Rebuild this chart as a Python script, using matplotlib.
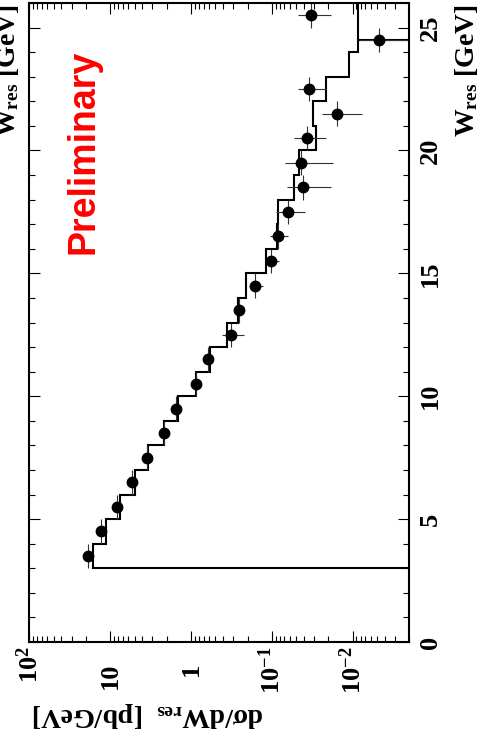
import numpy as np
import matplotlib
matplotlib.use('Agg')
import matplotlib.pyplot as plt
from matplotlib.ticker import MultipleLocator, LogLocator, FuncFormatter, NullFormatter

plt.rcParams['mathtext.fontset'] = 'custom'
plt.rcParams['mathtext.rm'] = 'Liberation Serif:bold'
plt.rcParams['mathtext.it'] = 'Liberation Serif:bold'
plt.rcParams['mathtext.bf'] = 'Liberation Serif:bold'
plt.rcParams['font.family'] = 'Liberation Serif'
plt.rcParams['font.weight'] = 'bold'

# measured cross section, one point per 1 GeV bin
w_res = [3.5, 4.5, 5.5, 6.5, 7.5, 8.5, 9.5, 10.5, 11.5, 12.5, 13.5,
         14.5, 15.5, 16.5, 17.5, 18.5, 19.5, 20.5, 21.5, 22.5, 24.5, 25.5]
dsigma = [18.6, 13.0, 8.3, 5.4, 3.5, 2.13, 1.53, 0.873, 0.62, 0.319, 0.252,
          0.160, 0.102, 0.0843, 0.0641, 0.0418, 0.0438, 0.0373, 0.0157,
          0.0343, 0.0048, 0.0329]
dsigma_err = [0.6, 0.4, 0.3, 0.2, 0.15, 0.1, 0.08, 0.06, 0.05, 0.1, 0.025,
              0.03, 0.02, 0.021, 0.025, 0.023, 0.026, 0.016, 0.008,
              0.013, 0.0034, 0.0145]
w_halfbin = 0.5

# MC prediction (histogram)
mc_edges = [3, 4, 5, 6, 7, 8, 9, 10, 11, 12, 13, 14, 15, 16, 17, 18, 19,
            20, 21, 22, 23, 24, 24.5]
mc_vals = [16.4, 11.2, 7.55, 5.0, 3.37, 2.13, 1.43, 0.873, 0.58, 0.36,
           0.259, 0.21, 0.118, 0.0867, 0.085, 0.054, 0.046, 0.0283, 0.0306,
           0.0215, 0.011, 0.0085]
mc_tail_edges = [24.5, 27]
mc_tail_vals = [0.0085]


def decade_label(v, pos):
    e = int(round(np.log10(v)))
    if e == 0:
        return '1'
    if e == 1:
        return '10'
    return r'$10^{%d}$' % e


fig = plt.figure(figsize=(4.84, 7.47), dpi=100)
ax = fig.add_axes([29.3 / 484, 105 / 747, 380 / 484, 639 / 747])

ax.stairs(mc_vals, mc_edges, orientation='horizontal', baseline=1e-4,
          color='k', lw=1.5)
ax.stairs(mc_tail_vals, mc_tail_edges, orientation='horizontal',
          baseline=None, color='k', lw=1.5)
ax.errorbar(dsigma, w_res, xerr=dsigma_err, yerr=w_halfbin, fmt='o',
            ms=7.5, mfc='k', mec='k', ecolor='#333333', elinewidth=0.8,
            capsize=0)

ax.set_xscale('log')
ax.set_xlim(100, 0.002)
ax.set_ylim(0, 26)
ax.xaxis.set_major_locator(LogLocator(base=10, numticks=10))
ax.xaxis.set_minor_locator(LogLocator(base=10, subs=range(2, 10), numticks=20))
ax.xaxis.set_minor_formatter(NullFormatter())
ax.xaxis.set_major_formatter(FuncFormatter(decade_label))
ax.yaxis.set_major_locator(MultipleLocator(5))
ax.yaxis.set_minor_locator(MultipleLocator(1))

ax.tick_params(which='both', direction='in', top=True, bottom=True,
               left=True, right=True, labelleft=False, labelright=True,
               width=0.8)
ax.tick_params(which='major', length=8)
ax.tick_params(which='minor', length=4)
ax.tick_params(axis='x', labelrotation=90, labelsize=19, pad=3)
ax.tick_params(axis='y', labelrotation=90, labelsize=19, pad=7)
for lbl in ax.get_yticklabels():
    lbl.set_verticalalignment('center')
for s in ax.spines.values():
    s.set_linewidth(1.5)

# labels without exponent sit further from the axis, like the 10^n ones
locs = ax.xaxis.get_major_locator()()
for tick, loc in zip(ax.xaxis.get_major_ticks(len(locs)), locs):
    if loc in (1, 10):
        tick.set_pad(15)

# axis titles (plot is drawn turned by 90 degrees)
fig.text(32 / 484, 1 - 714 / 747, 'dσ/dW$_{\\mathrm{res}}$  [pb/GeV]',
         rotation=180, ha='left', va='center', fontsize=20)
fig.text(466 / 484, 1 - 4 / 747, 'W$_{\\mathrm{res}}$ [GeV]',
         rotation=90, ha='center', va='top', fontsize=20)
fig.text(8 / 484, 1 - 4 / 747, 'W$_{\\mathrm{res}}$ [GeV]',
         rotation=90, ha='center', va='top', fontsize=20)

fig.text(84 / 484, 1 - 152 / 747, 'Preliminary', rotation=90, color='red',
         family='Liberation Sans', weight='bold', fontsize=27,
         ha='center', va='center')

fig.savefig('out.png', dpi=100)
